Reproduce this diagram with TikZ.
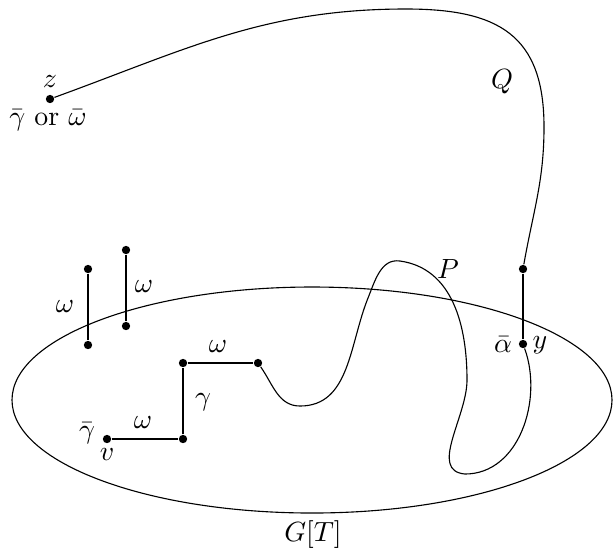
\documentclass[tikz,border=0pt]{standalone}
\usepackage{amsmath}
\usepackage{tikz}
\usetikzlibrary{positioning}

\begin{document}
\begin{tikzpicture}[x=0.36pt,y=0.36pt, dot/.style={circle,fill,inner sep=0pt,minimum size=3pt},
  lbl/.style={inner sep=1pt}]
\useasboundingbox (0,0) rectangle (614,554);
% the set T
\draw (312,154) ellipse [x radius=300,y radius=113];
\node[lbl] (gt) at (313,19) {$G[T]$};
% vertices
\node[dot] (z) at (50,455) {};
\node[dot] (a) at (523,285) {};
\node[dot] (y) at (523,210) {};
\node[dot] (w1a) at (88,285) {};
\node[dot] (w1b) at (88,209) {};
\node[dot] (w2a) at (126,304) {};
\node[dot] (w2b) at (126,228) {};
\node[dot] (v) at (107,115) {};
\node[dot] (c1) at (183,115) {};
\node[dot] (c2) at (183,191) {};
\node[dot] (c3) at (258,191) {};
\coordinate (qtop) at (406,545);
\coordinate (qright) at (544,427);
\coordinate (pmin) at (300,148);
\coordinate (prise) at (368,256);
\coordinate (ppeak) at (400,293);
\coordinate (pright) at (467,174);
\coordinate (pbot) at (465,80);
% edges
\draw (w1a) -- (w1b); \draw (w2a) -- (w2b); \draw (a) -- (y);
\draw (v) -- (c1); \draw (c1) -- (c2); \draw (c2) -- (c3);
% paths Q and P
\draw (z) to[out=20,in=180] (qtop) to[out=0,in=90,looseness=1.3] (qright) to[out=-90,in=80] (a);
\draw (c3) to[out=-55,in=180] (pmin) to[out=0,in=-112] (prise) to[out=68,in=172] (ppeak)
  to[out=-8,in=90] (pright) to[out=-90,in=175] (pbot) to[out=0,in=-70] (y);
% labels
\node[lbl] (zl) at (50,472) {$z$};
\node[lbl] (zl2) at (48,434) {$\bar\gamma$ or $\bar\omega$};
\node[lbl] (ql) at (502,472) {$Q$};
\node[lbl] (pl) at (448,285) {$P$};
\node[lbl] (al) at (503,209) {$\bar\alpha$};
\node[lbl] (yl) at (540,209) {$y$};
\node[lbl] (w1l) at (65,247) {$\omega$};
\node[lbl] (w2l) at (144,267) {$\omega$};
\node[lbl] (c23l) at (218,207) {$\omega$};
\node[lbl] (c12l) at (203,152) {$\gamma$};
\node[lbl] (vc1l) at (143,131) {$\omega$};
\node[lbl] (vl2) at (87,121) {$\bar\gamma$};
\node[lbl] (vl) at (107,100) {$v$};
\end{tikzpicture}
\end{document}
